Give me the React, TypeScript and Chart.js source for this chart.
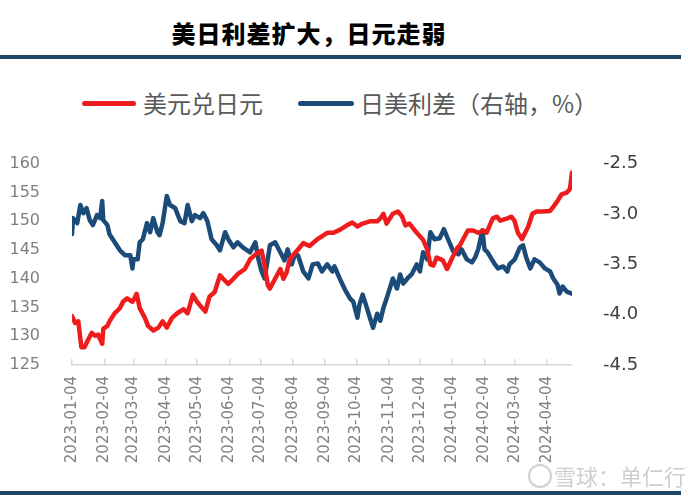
import { useEffect, useRef } from "react";
import { Chart, registerables } from "chart.js";

Chart.register(...registerables);

const TITLE = "美日利差扩大，日元走弱";
const RED_LABEL = "美元兑日元";
const BLUE_LABEL = "日美利差（右轴，%）";
const WATERMARK = "雪球：单仁行";

const X_START = "2023-01-04";
const X_END = "2024-04-28";

const tickLabels = [
  "2023-01-04", "2023-02-04", "2023-03-04", "2023-04-04", "2023-05-04", "2023-06-04",
  "2023-07-04", "2023-08-04", "2023-09-04", "2023-10-04", "2023-11-04", "2023-12-04",
  "2024-01-04", "2024-02-04", "2024-03-04", "2024-04-04",
];

const redDates = [
  "2023-01-04", "2023-01-07", "2023-01-10", "2023-01-13", "2023-01-16", "2023-01-19",
  "2023-01-23", "2023-01-26", "2023-01-29", "2023-02-02", "2023-02-03", "2023-02-07",
  "2023-02-09", "2023-02-14", "2023-02-19", "2023-02-22", "2023-02-26", "2023-03-03",
  "2023-03-05", "2023-03-07", "2023-03-10", "2023-03-15", "2023-03-18", "2023-03-23",
  "2023-03-28", "2023-04-01", "2023-04-05", "2023-04-10", "2023-04-15", "2023-04-21",
  "2023-04-25", "2023-04-30", "2023-05-04", "2023-05-09", "2023-05-12", "2023-05-16",
  "2023-05-21", "2023-05-26", "2023-05-29", "2023-06-03", "2023-06-08", "2023-06-12",
  "2023-06-19", "2023-06-24", "2023-07-01", "2023-07-05", "2023-07-08", "2023-07-11",
  "2023-07-13", "2023-07-18", "2023-07-23", "2023-07-26", "2023-07-29", "2023-08-01",
  "2023-08-09", "2023-08-14", "2023-08-20", "2023-08-27", "2023-09-06", "2023-09-12",
  "2023-09-18", "2023-09-25", "2023-09-30", "2023-10-05", "2023-10-10", "2023-10-17",
  "2023-10-24", "2023-10-27", "2023-10-30", "2023-11-02", "2023-11-08", "2023-11-13",
  "2023-11-17", "2023-11-20", "2023-11-24", "2023-12-01", "2023-12-07", "2023-12-11",
  "2023-12-14", "2023-12-17", "2023-12-20", "2023-12-26", "2023-12-30", "2024-01-05",
  "2024-01-09", "2024-01-11", "2024-01-16", "2024-01-19", "2024-01-24", "2024-01-29",
  "2024-02-03", "2024-02-06", "2024-02-09", "2024-02-12", "2024-02-16", "2024-02-19",
  "2024-02-26", "2024-03-01", "2024-03-04", "2024-03-07", "2024-03-11", "2024-03-14",
  "2024-03-17", "2024-03-21", "2024-03-25", "2024-03-31", "2024-04-07", "2024-04-10",
  "2024-04-14", "2024-04-18", "2024-04-23", "2024-04-26", "2024-04-28",
];
const redValues = [
  133.5, 132.3, 132.6, 128.1, 128.1, 129.2,
  130.6, 130.1, 130.3, 128.7, 131.3, 131.8,
  132.6, 134.0, 134.9, 136.0, 136.6, 136.0,
  136.6, 137.4, 134.9, 133.2, 131.8, 131.0,
  131.5, 132.6, 131.5, 133.2, 134.0, 134.7,
  134.0, 137.2, 136.0, 134.9, 134.3, 136.9,
  137.7, 140.6, 140.0, 139.1, 140.0, 140.8,
  141.7, 143.4, 144.5, 144.9, 142.3, 138.9,
  138.3, 140.0, 141.7, 140.0, 141.1, 143.4,
  145.1, 146.2, 145.7, 146.8, 148.0, 148.0,
  148.5, 149.3, 149.8, 149.1, 149.6, 150.0,
  150.0, 150.5, 151.3, 149.6, 151.3, 151.7,
  150.8, 149.3, 149.6, 148.0, 146.8, 145.1,
  142.5, 142.3, 143.7, 143.2, 141.7, 144.0,
  145.4, 145.7, 147.4, 148.4, 148.4, 148.0,
  148.4, 148.0, 149.3, 150.5, 150.8, 150.1,
  150.5, 150.8, 150.0, 148.0, 146.9, 148.0,
  149.1, 151.3, 151.7, 151.7, 151.8, 152.5,
  153.5, 154.7, 155.0, 155.6, 158.5,
];

const blueDates = [
  "2023-01-04", "2023-01-05", "2023-01-09", "2023-01-12", "2023-01-15", "2023-01-18",
  "2023-01-21", "2023-01-24", "2023-01-28", "2023-01-31", "2023-02-02", "2023-02-03",
  "2023-02-07", "2023-02-09", "2023-02-14", "2023-02-19", "2023-02-24", "2023-03-01",
  "2023-03-03", "2023-03-04", "2023-03-08", "2023-03-10", "2023-03-13", "2023-03-17",
  "2023-03-20", "2023-03-23", "2023-03-27", "2023-03-29", "2023-04-01", "2023-04-05",
  "2023-04-08", "2023-04-13", "2023-04-18", "2023-04-22", "2023-04-25", "2023-04-29",
  "2023-05-02", "2023-05-07", "2023-05-10", "2023-05-14", "2023-05-18", "2023-05-23",
  "2023-05-26", "2023-05-31", "2023-06-03", "2023-06-08", "2023-06-12", "2023-06-17",
  "2023-06-24", "2023-06-29", "2023-07-02", "2023-07-05", "2023-07-08", "2023-07-13",
  "2023-07-18", "2023-07-23", "2023-07-27", "2023-07-30", "2023-08-03", "2023-08-06",
  "2023-08-09", "2023-08-14", "2023-08-19", "2023-08-23", "2023-08-28", "2023-09-01",
  "2023-09-06", "2023-09-11", "2023-09-13", "2023-09-18", "2023-09-23", "2023-09-28",
  "2023-10-01", "2023-10-05", "2023-10-07", "2023-10-10", "2023-10-14", "2023-10-17",
  "2023-10-20", "2023-10-24", "2023-10-27", "2023-10-30", "2023-11-02", "2023-11-05",
  "2023-11-08", "2023-11-12", "2023-11-15", "2023-11-18", "2023-11-22", "2023-11-26",
  "2023-12-01", "2023-12-04", "2023-12-07", "2023-12-11", "2023-12-14", "2023-12-18",
  "2023-12-23", "2023-12-27", "2023-12-31", "2024-01-05", "2024-01-10", "2024-01-13",
  "2024-01-18", "2024-01-23", "2024-01-26", "2024-01-29", "2024-02-02", "2024-02-04",
  "2024-02-07", "2024-02-11", "2024-02-14", "2024-02-17", "2024-02-22", "2024-02-26",
  "2024-02-28", "2024-03-04", "2024-03-09", "2024-03-12", "2024-03-15", "2024-03-19",
  "2024-03-23", "2024-03-28", "2024-04-02", "2024-04-07", "2024-04-10", "2024-04-14",
  "2024-04-16", "2024-04-19", "2024-04-23", "2024-04-28",
];
const blueValues = [
  -3.20, -3.04, -3.09, -2.91, -2.99, -2.94,
  -3.06, -3.11, -3.01, -3.04, -2.87, -3.06,
  -3.11, -3.20, -3.28, -3.36, -3.41, -3.41,
  -3.54, -3.45, -3.45, -3.28, -3.25, -3.09,
  -3.18, -3.04, -3.18, -3.21, -3.09, -2.82,
  -2.91, -2.94, -3.07, -3.09, -2.91, -3.07,
  -3.01, -3.04, -2.99, -3.07, -3.25, -3.31,
  -3.36, -3.18, -3.25, -3.33, -3.28, -3.33,
  -3.38, -3.28, -3.45, -3.57, -3.64, -3.31,
  -3.28, -3.38, -3.46, -3.35, -3.50, -3.40,
  -3.41, -3.57, -3.64, -3.50, -3.49, -3.57,
  -3.50, -3.57, -3.52, -3.64, -3.75, -3.84,
  -3.87, -4.03, -3.90, -3.80, -3.93, -4.03,
  -4.13, -3.99, -4.06, -3.93, -3.84, -3.74,
  -3.64, -3.74, -3.60, -3.69, -3.64, -3.60,
  -3.50, -3.57, -3.38, -3.45, -3.18, -3.25,
  -3.24, -3.15, -3.25, -3.37, -3.40, -3.35,
  -3.45, -3.48, -3.43, -3.35, -3.16, -3.35,
  -3.38, -3.45, -3.50, -3.54, -3.52, -3.57,
  -3.50, -3.45, -3.33, -3.31, -3.43, -3.54,
  -3.45, -3.48, -3.54, -3.57, -3.64, -3.70,
  -3.79, -3.72, -3.77, -3.79,
];

const RED = "#ee1c1c";
const BLUE = "#1b4b78";
const NAVY = "#1c4566";
const CJK = '"Noto Sans CJK SC", "Noto Sans", sans-serif';
const NUM = '"DejaVu Sans", sans-serif';

function dayIndex(s: string): number {
  const [y, m, d] = s.split("-").map(Number);
  const [y0, m0, d0] = X_START.split("-").map(Number);
  return Math.round((Date.UTC(y, m - 1, d) - Date.UTC(y0, m0 - 1, d0)) / 86400000);
}

const tickDays = tickLabels.map(dayIndex);

export default function App() {
  const ref = useRef<HTMLCanvasElement | null>(null);

  useEffect(() => {
    if (!ref.current) return;
    const chart = new Chart(ref.current, {
      type: "line",
      data: {
        datasets: [
          {
            label: RED_LABEL,
            data: redDates.map((d, i) => ({ x: dayIndex(d), y: redValues[i] })),
            borderColor: RED,
            backgroundColor: RED,
            borderWidth: 4.5,
            pointRadius: 0,
            borderJoinStyle: "round",
            borderCapStyle: "round",
            yAxisID: "y",
          },
          {
            label: BLUE_LABEL,
            data: blueDates.map((d, i) => ({ x: dayIndex(d), y: blueValues[i] })),
            borderColor: BLUE,
            backgroundColor: BLUE,
            borderWidth: 4.5,
            pointRadius: 0,
            borderJoinStyle: "round",
            borderCapStyle: "round",
            yAxisID: "y1",
          },
        ],
      },
      options: {
        animation: false,
        responsive: false,
        maintainAspectRatio: false,
        layout: { padding: { top: 29, left: 0, right: 0, bottom: 0 } },
        plugins: { legend: { display: false }, tooltip: { enabled: false } },
        scales: {
          x: {
            type: "linear",
            min: 0,
            max: dayIndex(X_END),
            afterBuildTicks: (s: any) => {
              s.ticks = tickDays.map((v) => ({ value: v }));
            },
            afterFit: (s: any) => {
              s.height = 135;
            },
            ticks: {
              autoSkip: false,
              minRotation: 90,
              maxRotation: 90,
              padding: 17,
              color: "#808080",
              font: { family: NUM, size: 15 },
              callback: (v: any) => {
                const i = tickDays.indexOf(Number(v));
                return i >= 0 ? tickLabels[i] : "";
              },
            },
            grid: {
              display: true,
              drawOnChartArea: false,
              drawTicks: true,
              tickLength: -6,
              color: "#d9d9d9",
              lineWidth: 1.5,
            },
            border: { display: true, color: "#d9d9d9", width: 1.5 },
          },
          y: {
            position: "left",
            min: 125,
            max: 160,
            afterFit: (s: any) => {
              s.width = 72;
            },
            ticks: {
              stepSize: 5,
              padding: 24,
              color: "#7f7f7f",
              font: { family: NUM, size: 16 },
            },
            grid: { display: false },
            border: { display: false },
          },
          y1: {
            position: "right",
            min: -4.5,
            max: -2.5,
            afterFit: (s: any) => {
              s.width = 116;
            },
            ticks: {
              stepSize: 0.5,
              padding: 23,
              color: "#404040",
              font: { family: NUM, size: 18 },
              callback: (v: any) => Number(v).toFixed(1),
            },
            grid: { display: false },
            border: { display: false },
          },
        },
      },
    } as any);
    return () => chart.destroy();
  }, []);

  return (
    <div
      style={{
        position: "fixed",
        left: 0,
        top: 0,
        width: 688,
        height: 500,
        background: "#ffffff",
        overflow: "hidden",
      }}
    >
      <div
        style={{
          position: "absolute",
          left: 0,
          top: 17,
          width: 618,
          textAlign: "center",
          fontFamily: CJK,
          fontWeight: 900,
          fontSize: 24,
          letterSpacing: 1,
          lineHeight: "32px",
          color: "#000000",
        }}
      >
        {TITLE}
      </div>
      <div style={{ position: "absolute", left: 0, top: 55, width: 681, height: 4, background: NAVY }} />
      <div
        style={{
          position: "absolute",
          left: 82,
          top: 101,
          width: 54,
          height: 5,
          borderRadius: 3,
          background: RED,
        }}
      />
      <div
        style={{
          position: "absolute",
          left: 143,
          top: 89,
          lineHeight: "28px",
          fontSize: 24,
          fontFamily: CJK,
          color: "#595959",
          whiteSpace: "nowrap",
        }}
      >
        {RED_LABEL}
      </div>
      <div
        style={{
          position: "absolute",
          left: 298,
          top: 101,
          width: 56,
          height: 5,
          borderRadius: 3,
          background: BLUE,
        }}
      />
      <div
        style={{
          position: "absolute",
          left: 360,
          top: 89,
          lineHeight: "28px",
          fontSize: 24,
          fontFamily: CJK,
          color: "#595959",
          whiteSpace: "nowrap",
        }}
      >
        {BLUE_LABEL}
      </div>
      <canvas
        ref={ref}
        width={688}
        height={370}
        style={{ position: "absolute", left: 0, top: 130, width: 688, height: 370 }}
      />
      <div
        style={{
          position: "absolute",
          left: 528,
          top: 464,
          width: 20,
          height: 20,
          borderRadius: "50%",
          border: "2px solid #cfcfcf",
        }}
      />
      <div
        style={{
          position: "absolute",
          left: 554,
          top: 461,
          lineHeight: "28px",
          fontSize: 22,
          fontFamily: CJK,
          color: "#cfcfcf",
          whiteSpace: "nowrap",
        }}
      >
        {WATERMARK}
      </div>
      <div style={{ position: "absolute", left: 0, top: 491, width: 681, height: 4, background: NAVY }} />
    </div>
  );
}
